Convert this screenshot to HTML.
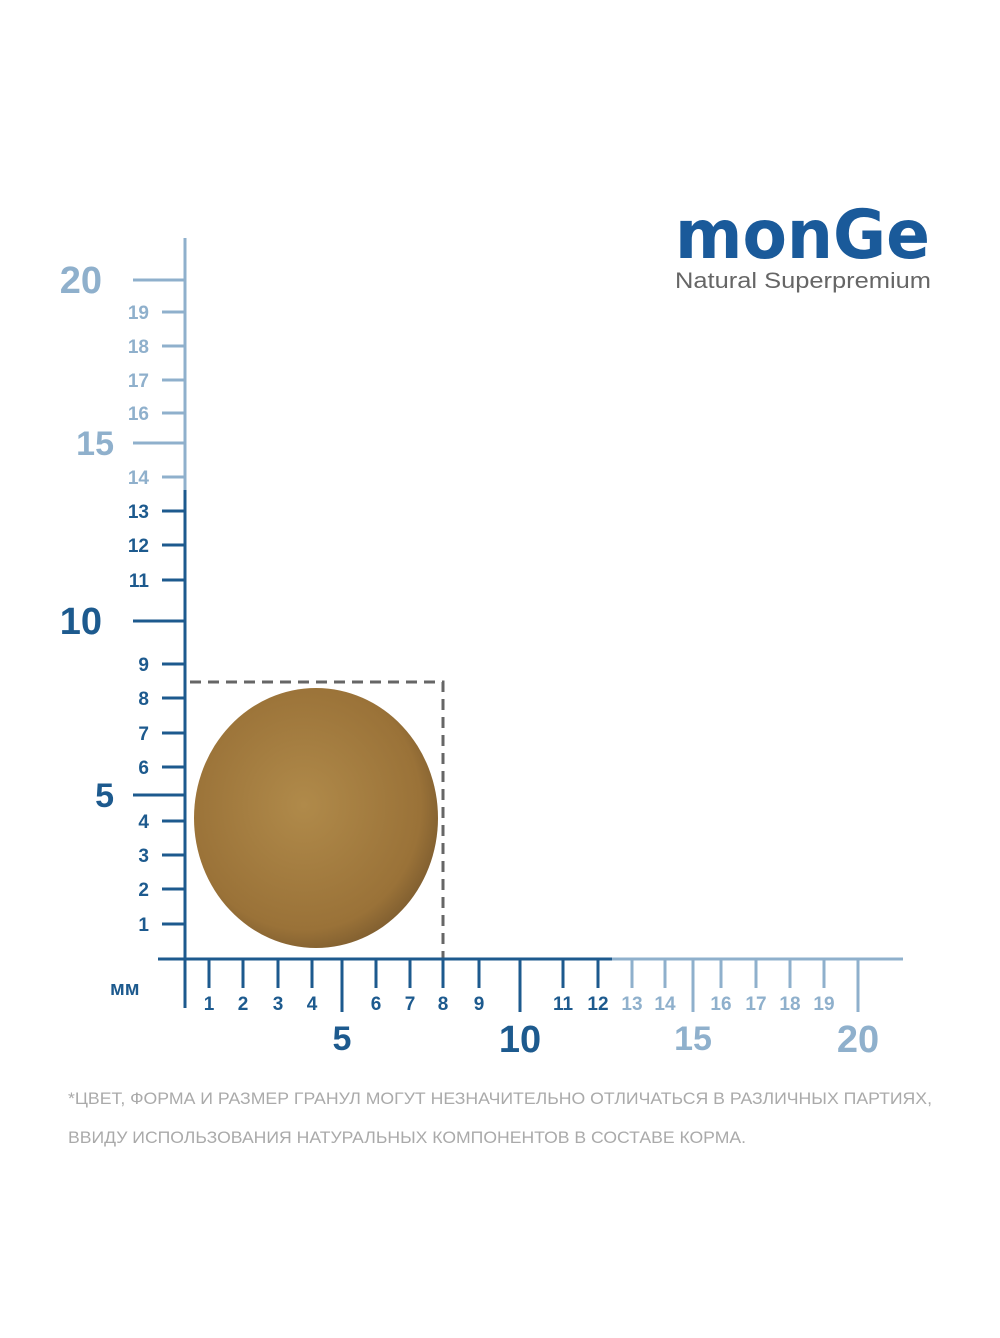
<!DOCTYPE html><html><head><meta charset="utf-8"><style>body{margin:0;background:#fff}</style></head><body>
<svg width="1000" height="1333" xmlns="http://www.w3.org/2000/svg" font-family="Liberation Sans, sans-serif" font-weight="bold">
<defs><radialGradient id="g" cx="45%" cy="45%" r="60%"><stop offset="0" stop-color="#b08a4a"/><stop offset="0.8" stop-color="#9a7238"/><stop offset="1" stop-color="#7a5a2e"/></radialGradient></defs>
<text x="675" y="258" font-size="68" fill="#1a5a9a" textLength="255" lengthAdjust="spacingAndGlyphs" font-family="DejaVu Sans, sans-serif">monGe</text>
<text x="675" y="288" font-size="22" font-weight="normal" fill="#666" textLength="256" lengthAdjust="spacingAndGlyphs">Natural Superpremium</text>
<ellipse cx="316" cy="818" rx="122" ry="130" fill="url(#g)"/>
<path d="M190 682H443V959" fill="none" stroke="#666" stroke-width="3" stroke-dasharray="11 7"/>
<g stroke-width="3">
<line x1="185" y1="238" x2="185" y2="490" stroke="#8fb0cc"/>
<line x1="185" y1="490" x2="185" y2="1008" stroke="#1d5a8e"/>
<line x1="158" y1="959" x2="612" y2="959" stroke="#1d5a8e"/>
<line x1="612" y1="959" x2="903" y2="959" stroke="#8fb0cc"/>
</g>
<g stroke-width="3" stroke="#1d5a8e">
<line x1="209" y1="959" x2="209" y2="988"/><line x1="243" y1="959" x2="243" y2="988"/><line x1="278" y1="959" x2="278" y2="988"/><line x1="312" y1="959" x2="312" y2="988"/><line x1="342" y1="959" x2="342" y2="1012"/><line x1="376" y1="959" x2="376" y2="988"/><line x1="410" y1="959" x2="410" y2="988"/><line x1="443" y1="959" x2="443" y2="988"/><line x1="479" y1="959" x2="479" y2="988"/><line x1="520" y1="959" x2="520" y2="1012"/><line x1="563" y1="959" x2="563" y2="988"/><line x1="598" y1="959" x2="598" y2="988"/>
<line x1="162" y1="924" x2="185" y2="924"/><line x1="162" y1="889" x2="185" y2="889"/><line x1="162" y1="855" x2="185" y2="855"/><line x1="162" y1="821" x2="185" y2="821"/><line x1="133" y1="795" x2="185" y2="795"/><line x1="162" y1="767" x2="185" y2="767"/><line x1="162" y1="733" x2="185" y2="733"/><line x1="162" y1="698" x2="185" y2="698"/><line x1="162" y1="664" x2="185" y2="664"/><line x1="133" y1="621" x2="185" y2="621"/><line x1="162" y1="580" x2="185" y2="580"/><line x1="162" y1="545" x2="185" y2="545"/><line x1="162" y1="511" x2="185" y2="511"/>
</g>
<g stroke-width="3" stroke="#8fb0cc">
<line x1="632" y1="959" x2="632" y2="988"/><line x1="665" y1="959" x2="665" y2="988"/><line x1="693" y1="959" x2="693" y2="1012"/><line x1="721" y1="959" x2="721" y2="988"/><line x1="756" y1="959" x2="756" y2="988"/><line x1="790" y1="959" x2="790" y2="988"/><line x1="824" y1="959" x2="824" y2="988"/><line x1="858" y1="959" x2="858" y2="1012"/>
<line x1="162" y1="477" x2="185" y2="477"/><line x1="133" y1="443" x2="185" y2="443"/><line x1="162" y1="413" x2="185" y2="413"/><line x1="162" y1="380" x2="185" y2="380"/><line x1="162" y1="346" x2="185" y2="346"/><line x1="162" y1="312" x2="185" y2="312"/><line x1="133" y1="280" x2="185" y2="280"/>
</g>
<g font-size="19" text-anchor="middle" fill="#1d5a8e">
<text x="209" y="1010">1</text><text x="243" y="1010">2</text><text x="278" y="1010">3</text><text x="312" y="1010">4</text><text x="376" y="1010">6</text><text x="410" y="1010">7</text><text x="443" y="1010">8</text><text x="479" y="1010">9</text><text x="563" y="1010">11</text><text x="598" y="1010">12</text>
</g>
<g font-size="19" text-anchor="middle" fill="#8fb0cc">
<text x="632" y="1010">13</text><text x="665" y="1010">14</text><text x="721" y="1010">16</text><text x="756" y="1010">17</text><text x="790" y="1010">18</text><text x="824" y="1010">19</text>
</g>
<g font-size="34" text-anchor="middle">
<text x="342" y="1050" fill="#1d5a8e">5</text><text x="520" y="1052" fill="#1d5a8e" font-size="38">10</text><text x="693" y="1050" fill="#8fb0cc">15</text><text x="858" y="1052" fill="#8fb0cc" font-size="38">20</text>
</g>
<g font-size="19" text-anchor="end" fill="#1d5a8e">
<text x="149" y="931">1</text><text x="149" y="896">2</text><text x="149" y="862">3</text><text x="149" y="828">4</text><text x="149" y="774">6</text><text x="149" y="740">7</text><text x="149" y="705">8</text><text x="149" y="671">9</text><text x="149" y="587">11</text><text x="149" y="552">12</text><text x="149" y="518">13</text>
</g>
<g font-size="19" text-anchor="end" fill="#8fb0cc">
<text x="149" y="484">14</text><text x="149" y="420">16</text><text x="149" y="387">17</text><text x="149" y="353">18</text><text x="149" y="319">19</text>
</g>
<g font-size="34" text-anchor="end">
<text x="114" y="807" fill="#1d5a8e">5</text><text x="102" y="634" fill="#1d5a8e" font-size="38">10</text><text x="114" y="455" fill="#8fb0cc">15</text><text x="102" y="293" fill="#8fb0cc" font-size="38">20</text>
</g>
<text x="110" y="995" font-size="20" fill="#1d5a8e">мм</text>
<text x="68" y="1104" font-size="17" font-weight="normal" fill="#aaa" textLength="864" lengthAdjust="spacingAndGlyphs">*ЦВЕТ, ФОРМА И РАЗМЕР ГРАНУЛ МОГУТ НЕЗНАЧИТЕЛЬНО ОТЛИЧАТЬСЯ В РАЗЛИЧНЫХ ПАРТИЯХ,</text>
<text x="68" y="1143" font-size="17" font-weight="normal" fill="#aaa" textLength="678" lengthAdjust="spacingAndGlyphs">ВВИДУ ИСПОЛЬЗОВАНИЯ НАТУРАЛЬНЫХ КОМПОНЕНТОВ В СОСТАВЕ КОРМА.</text>
</svg></body></html>
